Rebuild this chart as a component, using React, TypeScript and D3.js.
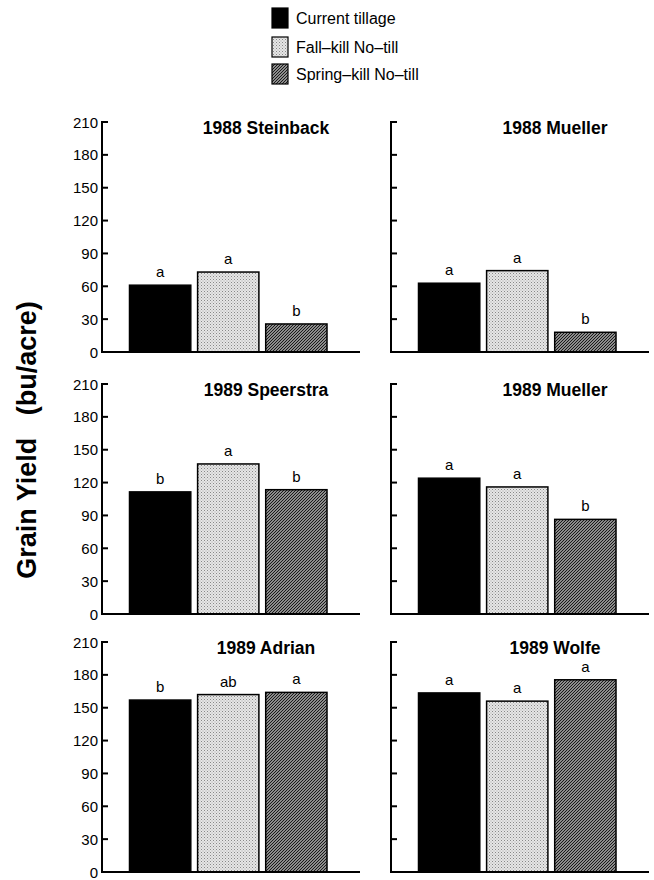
import React from "react";
import * as d3 from "d3";

const sites = ["1988 Steinback", "1988 Mueller", "1989 Speerstra", "1989 Mueller", "1989 Adrian", "1989 Wolfe"];
const seriesNames = ["Current tillage", "Fall\u2013kill No\u2013till", "Spring\u2013kill No\u2013till"];
const currentTillage = [61, 62.8, 111.5, 124, 157, 163.5];
const fallKill = [73, 74.3, 137, 116, 162, 156];
const springKill = [25.6, 18, 113.5, 86.4, 164, 175.5];
const currentLetters = ["a", "a", "b", "a", "b", "a"];
const fallLetters = ["a", "a", "a", "a", "ab", "a"];
const springLetters = ["b", "b", "b", "b", "a", "a"];
const yTicks = [0, 30, 60, 90, 120, 150, 180, 210];

const W = 654;
const H = 880;
const colX = [102, 391];
const rowTop = [122, 384, 642];
const panelH = 230;
const panelW = 258;
const FONT = "'Liberation Sans', Arial, Helvetica, sans-serif";

const fills = ["#000", "url(#lightPat)", "url(#darkPat)"];

export default function App() {
  const values = [currentTillage, fallKill, springKill];
  const letters = [currentLetters, fallLetters, springLetters];
  return (
    <svg width={W} height={H} style={{ position: "absolute", left: 0, top: 0, background: "#fff" }} fontFamily={FONT}>
      <defs>
        <pattern id="lightPat" width="3" height="3" patternUnits="userSpaceOnUse">
          <rect width="3" height="3" fill="#e6e6e6" />
          <rect x="0" y="0" width="1" height="1" fill="#888" />
          <rect x="1.5" y="1.5" width="1" height="1" fill="#a8a8a8" />
        </pattern>
        <pattern id="darkPat" width="3" height="3" patternUnits="userSpaceOnUse">
          <rect width="3" height="3" fill="#8c8c8c" />
          <path d="M0,3 L3,0 M-1,1 L1,-1 M2,4 L4,2" stroke="#1a1a1a" strokeWidth="1" />
        </pattern>
      </defs>

      {/* Legend */}
      {seriesNames.map((name, i) => {
        const cy = [18, 47, 74][i];
        return (
          <g key={name}>
            <rect x={272} y={cy - 10} width={16} height={20} fill={fills[i]} stroke="#000" strokeWidth={1.2} />
            <text x={296} y={cy + 6} fontSize={16} fill="#000">{name}</text>
          </g>
        );
      })}

      {/* Y axis title */}
      <text
        transform={`translate(36, 440) rotate(-90)`}
        textAnchor="middle"
        fontSize={27}
        fontWeight="bold"
        fill="#000"
        style={{ whiteSpace: "pre" }}
      >
        {"Grain Yield   (bu/acre)"}
      </text>

      {sites.map((site, p) => {
        const col = p % 2;
        const row = Math.floor(p / 2);
        const x0 = colX[col];
        const top = rowTop[row];
        const y = d3.scaleLinear().domain([0, 210]).range([top + panelH, top]);
        const x = d3.scaleBand<number>().domain([0, 1, 2]).range([x0 + 27.5, x0 + 225]).paddingInner(0.1).paddingOuter(0);
        const base = y(0);
        return (
          <g key={site + p}>
            {/* bars */}
            {[0, 1, 2].map((s) => {
              const v = values[s][p];
              const bx = x(s)!;
              const bw = x.bandwidth();
              return (
                <g key={s}>
                  <rect x={bx} y={y(v)} width={bw} height={base - y(v)} fill={fills[s]} stroke="#000" strokeWidth={1.5} />
                  <text x={bx + bw / 2} y={y(v) - 8} textAnchor="middle" fontSize={15} fill="#000">
                    {letters[s][p]}
                  </text>
                </g>
              );
            })}
            {/* axis */}
            <line x1={x0} x2={x0} y1={y(210) - 1} y2={base + 1} stroke="#000" strokeWidth={2} />
            <line x1={x0 - 1} x2={x0 + panelW} y1={base} y2={base} stroke="#000" strokeWidth={2} />
            {yTicks.map((t) => (
              <g key={t}>
                {t > 0 && <line x1={x0} x2={x0 + 6} y1={y(t)} y2={y(t)} stroke="#000" strokeWidth={2} />}
                {col === 0 && (
                  <text x={x0 - 4} y={y(t) + 5.5} textAnchor="end" fontSize={15} fill="#000">
                    {t}
                  </text>
                )}
              </g>
            ))}
            <text x={x0 + 164} y={top + 12} textAnchor="middle" fontSize={17.5} fontWeight="bold" fill="#000">
              {site}
            </text>
          </g>
        );
      })}
    </svg>
  );
}
